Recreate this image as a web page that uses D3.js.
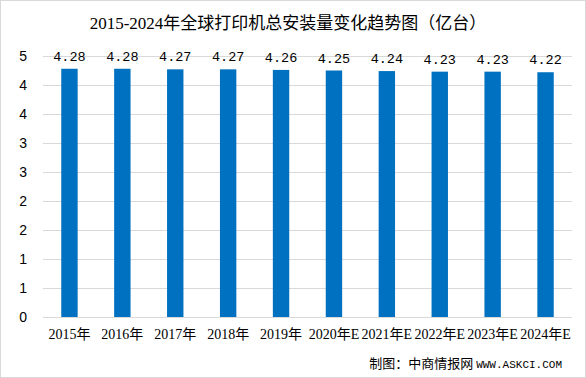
<!DOCTYPE html>
<html>
<head>
<meta charset="utf-8">
<script src="https://cdn.jsdelivr.net/npm/d3@7"></script>
<style>
  body { margin: 0; background: #fff; }
  svg { display: block; }
</style>
</head>
<body>
<div id="chart"></div>
<script>
const years = ["2015年", "2016年", "2017年", "2018年", "2019年", "2020年E", "2021年E", "2022年E", "2023年E", "2024年E"];
const installs = [4.28, 4.28, 4.27, 4.27, 4.26, 4.25, 4.24, 4.23, 4.23, 4.22];
const yTicks = [0, 0.5, 1, 1.5, 2, 2.5, 3, 3.5, 4, 4.5];

const width = 586, height = 378;
const margin = {top: 56, right: 14, bottom: 61, left: 43};

const svg = d3.select("#chart").append("svg")
    .attr("width", width).attr("height", height);

// outer border
svg.append("rect")
    .attr("x", 0.5).attr("y", 0.5)
    .attr("width", width - 1).attr("height", height - 1)
    .attr("fill", "#fff").attr("stroke", "#d9d9d9");

const x = d3.scaleBand().domain(years)
    .range([margin.left, width - margin.right])
    .paddingInner(0.69).paddingOuter(0.345);

const y = d3.scaleLinear().domain([0, 4.5])
    .range([height - margin.bottom, margin.top]);

// grid lines
svg.append("g").selectAll("line").data(yTicks).join("line")
    .attr("x1", margin.left).attr("x2", width - margin.right)
    .attr("y1", d => y(d) + 0.5).attr("y2", d => y(d) + 0.5)
    .attr("stroke", "#d9d9d9");

// y axis labels (rounded to integers like the original)
const yAxis = svg.append("g")
    .attr("transform", `translate(${margin.left},0)`)
    .call(d3.axisLeft(y).tickValues(yTicks).tickSize(0).tickPadding(16)
        .tickFormat(d => Math.round(d)));
yAxis.select(".domain").remove();
yAxis.selectAll("text")
    .attr("font-family", "Liberation Sans, Arial, sans-serif")
    .attr("font-size", 14).attr("fill", "#000");

// bars
svg.append("g").selectAll("rect").data(installs).join("rect")
    .attr("x", (d, i) => x(years[i]))
    .attr("width", x.bandwidth())
    .attr("y", d => y(d))
    .attr("height", d => y(0) - y(d))
    .attr("fill", "#0070c0");

// value labels
svg.append("g").selectAll("text").data(installs).join("text")
    .attr("x", (d, i) => x(years[i]) + x.bandwidth() / 2)
    .attr("y", d => y(d) - 8)
    .attr("text-anchor", "middle")
    .attr("font-family", "Liberation Mono, monospace")
    .attr("font-size", 13.5)
    .text(d => d.toFixed(2));

// x axis labels
const xAxis = svg.append("g")
    .attr("transform", `translate(0,${y(0)})`)
    .call(d3.axisBottom(x).tickSize(0).tickPadding(12));
xAxis.select(".domain").remove();
xAxis.selectAll("text")
    .attr("font-family", "Liberation Serif, 'Noto Sans CJK SC', serif")
    .attr("font-size", 14).attr("fill", "#000");

// title
svg.append("text")
    .attr("x", 288).attr("y", 29)
    .attr("text-anchor", "middle")
    .attr("font-family", "Liberation Serif, 'Noto Sans CJK SC', serif")
    .attr("font-size", 17)
    .text("2015-2024年全球打印机总安装量变化趋势图（亿台）");

// source
const source = svg.append("text")
    .attr("x", 562).attr("y", 368)
    .attr("text-anchor", "end")
    .attr("font-family", "'Noto Sans CJK SC', sans-serif")
    .attr("font-size", 13);
source.append("tspan").text("制图：中商情报网 ");
source.append("tspan")
    .attr("font-family", "Liberation Mono, monospace")
    .attr("font-size", 11)
    .text("WWW.ASKCI.COM");
</script>
</body>
</html>
